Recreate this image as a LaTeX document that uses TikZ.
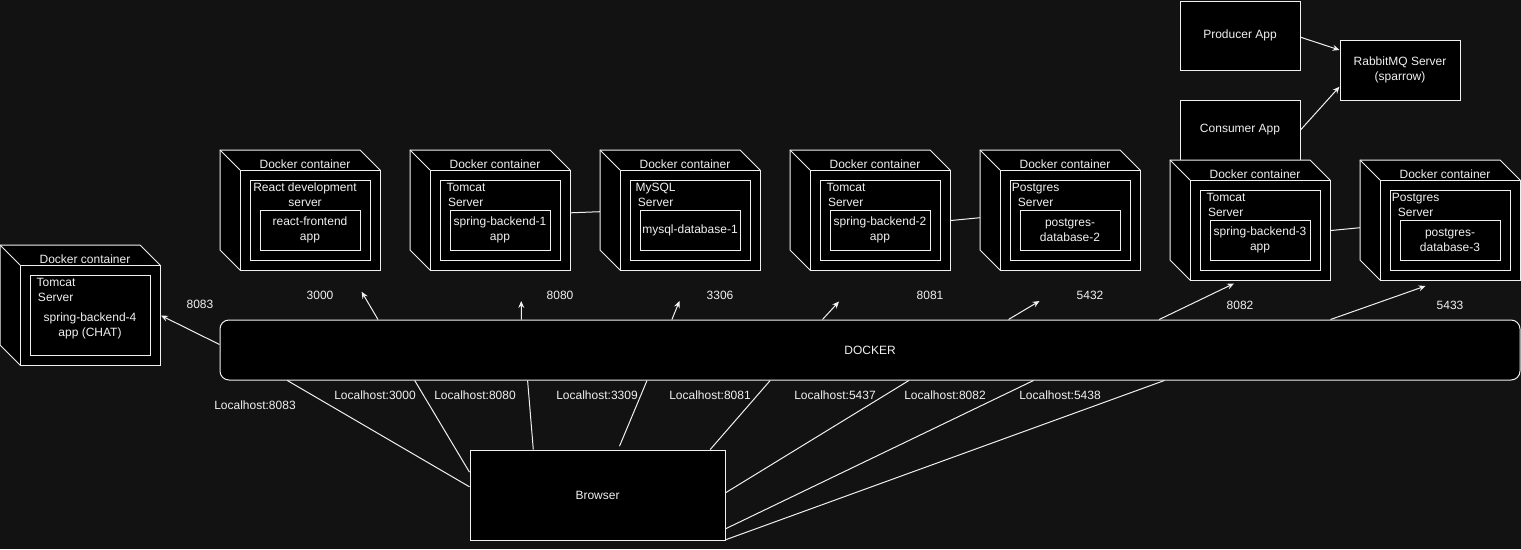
\documentclass[tikz,border=0pt]{standalone}
\usepackage{fontspec}
\setmainfont{Liberation Sans}
\usepackage{tikz}
\usetikzlibrary{arrows.meta}
\definecolor{bgdark}{RGB}{18,18,18}
\definecolor{ink}{RGB}{240,240,240}

\newcommand{\dockerbox}[3]{%
  \draw[box] (#2,#3) -- ++(140,0) -- ++(20,20) -- ++(0,100) -- ++(-140,0) -- ++(-20,-20) -- cycle;
  \draw[wire] (#2,#3) -- ++(20,20);
  \node[box, minimum width=140, minimum height=100, anchor=north west] (#1) at ({#2+20},{#3+20}) {};
  \node[txt] (#1-title) at ({#2+85},{#3+14}) {Docker container};
  \node[box, minimum width=120, minimum height=80, anchor=north west] (#1-srv) at ({#2+30},{#3+30}) {};
  \coordinate (#1-west) at (#2,{#3+60});
}

\begin{document}
\begin{tikzpicture}[x=1pt, y=-1pt,
  txt/.style={text=ink, font=\fontsize{12}{15}\selectfont, inner sep=0pt, align=center},
  box/.style={draw=ink, fill=black, line width=1pt},
  wire/.style={draw=ink, line width=1pt},
  appbox/.style={box, txt, minimum width=100, minimum height=40},
  arr/.style={wire, -{Stealth[length=7pt, width=6pt, inset=2.5pt]}}]

\useasboundingbox (0,0) rectangle (1521,549);
\fill[bgdark] (0,0) rectangle (1521,549);

\node[box, txt, minimum width=120, minimum height=69] (producer) at (1240,35.5) {Producer App};
\node[box, txt, minimum width=120, minimum height=60] (consumer) at (1240,130) {Consumer App};
\node[box, txt, minimum width=120, minimum height=60] (rabbit) at (1400,70) {RabbitMQ Server\\(sparrow)};
\draw[arr] ([yshift=-1.7pt]producer.east) -- ([yshift=20pt]rabbit.west);
\draw[arr] (consumer.east) -- ([yshift=-16.7pt]rabbit.west);

\dockerbox{back4}{0}{245}
\node[txt, anchor=west, align=left] at (36.5,290) {Tomcat\\\hspace{1.3pt}Server};
\node[txt] (back4-app) at (90,325.5) {spring-backend-4\\app (CHAT)};

\dockerbox{react}{220}{150}
\node[txt] at (305,195) {React development\\server};
\node[appbox] (react-app) at (310,230) {react-frontend\\app};

\dockerbox{back1}{410}{150}
\node[txt, anchor=west, align=left] at (446.5,195) {Tomcat\\\hspace{1.3pt}Server};
\node[appbox] (back1-app) at (500,230) {spring-backend-1\\app};

\dockerbox{mysql}{600}{150}
\node[txt, anchor=west, align=left] at (635.3,195) {MySQL\\\hspace{2.4pt}Server};
\node[appbox] (mysql-app) at (690,230) {mysql-database-1};

\dockerbox{back2}{790}{150}
\node[txt, anchor=west, align=left] at (826.5,195) {Tomcat\\\hspace{1.3pt}Server};
\node[appbox] (back2-app) at (880,230) {spring-backend-2\\app};

\dockerbox{pg2}{980}{150}
\node[txt, anchor=west, align=left] at (1011.7,195) {Postgres\\\hspace{6pt}Server};
\node[appbox] (pg2-app) at (1070,230) {postgres-\\database-2};

\dockerbox{back3}{1170}{160}
\node[txt, anchor=west, align=left] at (1206.5,205) {Tomcat\\\hspace{1.3pt}Server};
\node[appbox] (back3-app) at (1260,240) {spring-backend-3\\app};

\dockerbox{pg3}{1360}{160}
\node[txt, anchor=west, align=left] at (1391.7,205) {Postgres\\\hspace{6pt}Server};
\node[appbox] (pg3-app) at (1450,240) {postgres-\\database-3};

\draw[wire] ([yshift=7.7pt]back1.east) -- ([yshift=-1.7pt]mysql-west);
\draw[wire] (back2.east) -- ([yshift=-7.7pt]pg2-west);
\draw[wire] (back3.east) -- ([yshift=-7.7pt]pg3-west);

\node[box, txt, rounded corners=9, minimum width=1300, minimum height=60] (docker) at (870,350) {DOCKER};
\node[box, txt, minimum width=255, minimum height=90] (browser) at (597.5,495) {Browser};

\coordinate (p3000) at (361.6,291.7);
\coordinate (p8080) at (521.2,301);
\coordinate (p3306) at (679.5,301);
\coordinate (p8081) at (839,301.5);
\coordinate (p5432) at (1039.5,301);
\coordinate (p8082) at (1234,283.5);
\coordinate (p5433) at (1425.5,286);

\draw[arr] ([yshift=-25pt]docker.north west) -- (back4.east);
\draw[arr] ([xshift=158.5pt]docker.north west) -- (p3000);
\draw[arr] ([xshift=302pt]docker.north west) -- (p8080);
\draw[arr] ([xshift=452.4pt]docker.north west) -- (p3306);
\draw[arr] ([xshift=603pt]docker.north west) -- (p8081);
\draw[arr] ([xshift=789pt]docker.north west) -- (p5432);
\draw[arr] ([xshift=939.7pt]docker.north west) -- (p8082);
\draw[arr] ([xshift=1111pt]docker.north west) -- (p5433);

\node[txt] at (200,304) {8083};
\node[txt] at (320,295) {3000};
\node[txt] at (560,295) {8080};
\node[txt] at (720,295) {3306};
\node[txt] at (930,295) {8081};
\node[txt] at (1090,295) {5432};
\node[txt] at (1240,305) {8082};
\node[txt] at (1450,305) {5433};

\draw[wire] ([yshift=-37.3pt]browser.north west) -- ([xshift=67.8pt]docker.south west);
\draw[wire] ([yshift=-22.7pt]browser.north west) -- ([xshift=195.2pt]docker.south west);
\draw[wire] ([xshift=63.8pt]browser.north west) -- ([xshift=308.1pt]docker.south west);
\draw[wire] ([xshift=150pt,yshift=3.3pt]browser.north west) -- ([xshift=427.5pt]docker.south west);
\draw[wire] ([xshift=240.7pt]browser.north west) -- ([xshift=550.7pt]docker.south west);
\draw[wire] ([yshift=-43.3pt]browser.north east) -- ([xshift=689.4pt]docker.south west);
\draw[wire] ([yshift=-79.3pt]browser.north east) -- ([xshift=814pt]docker.south west);
\draw[wire] ([yshift=0.7pt]browser.south east) -- ([xshift=944.9pt]docker.south west);

\node[txt] at (255,405) {Localhost:8083};
\node[txt] at (375,395) {Localhost:3000};
\node[txt] at (475,395) {Localhost:8080};
\node[txt] at (597,395) {Localhost:3309};
\node[txt] at (710,395) {Localhost:8081};
\node[txt] at (835,395) {Localhost:5437};
\node[txt] at (945,395) {Localhost:8082};
\node[txt] at (1060,395) {Localhost:5438};
\end{tikzpicture}
\end{document}
